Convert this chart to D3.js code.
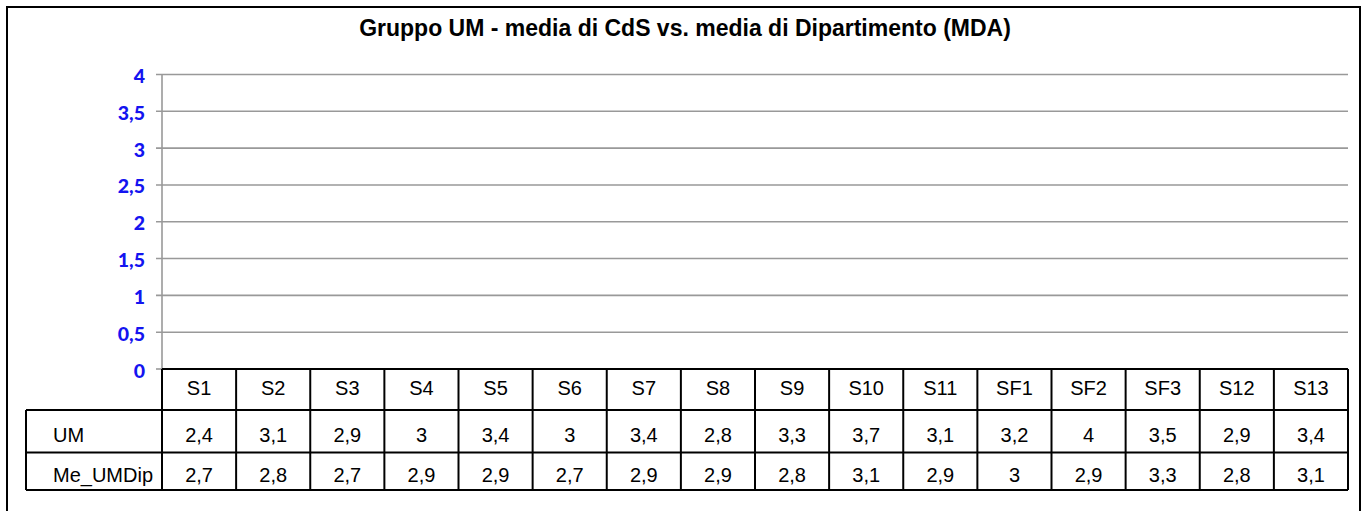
<!DOCTYPE html>
<html>
<head>
<meta charset="utf-8">
<script src="https://cdn.jsdelivr.net/npm/d3@7"></script>
<style>
  html, body { margin: 0; padding: 0; background: #fff; }
  svg { display: block; }
</style>
</head>
<body>
<svg id="chart" width="1365" height="511"></svg>
<script>
const title = "Gruppo UM - media di CdS vs. media di Dipartimento (MDA)";
const categories = ["S1","S2","S3","S4","S5","S6","S7","S8","S9","S10","S11","SF1","SF2","SF3","S12","S13"];
const seriesNames = ["UM", "Me_UMDip"];
const umValues = [2.4,3.1,2.9,3,3.4,3,3.4,2.8,3.3,3.7,3.1,3.2,4,3.5,2.9,3.4];
const meUMDipValues = [2.7,2.8,2.7,2.9,2.9,2.7,2.9,2.9,2.8,3.1,2.9,3,2.9,3.3,2.8,3.1];
const yTicks = [0,0.5,1,1.5,2,2.5,3,3.5,4];

const svg = d3.select("#chart");
const fmt = v => String(v).replace(".", ",");

// outer frame (no bottom edge visible)
svg.append("path")
  .attr("d", "M7,520 L7,7 L1360,7 L1360,520")
  .attr("fill", "none").attr("stroke", "#000").attr("stroke-width", 2);

// title
svg.append("text")
  .attr("x", 685).attr("y", 36)
  .attr("text-anchor", "middle")
  .attr("font-family", "Liberation Sans, Arial, sans-serif")
  .attr("font-weight", "bold")
  .attr("font-size", 23)
  .text(title);

const x = d3.scaleBand().domain(categories).range([162, 1348]);
const y = d3.scaleLinear().domain([0, 4]).range([369, 74.5]);

// gridlines
svg.append("g").selectAll("line").data(yTicks.filter(d => d > 0)).join("line")
  .attr("x1", 156).attr("x2", 1348)
  .attr("y1", d => y(d)).attr("y2", d => y(d))
  .attr("stroke", "#999").attr("stroke-width", 1.6);

// y axis line and zero tick
svg.append("line").attr("x1", 162).attr("x2", 162).attr("y1", y(4)).attr("y2", y(0))
  .attr("stroke", "#999").attr("stroke-width", 1.6);
svg.append("line").attr("x1", 156).attr("x2", 162).attr("y1", y(0)).attr("y2", y(0))
  .attr("stroke", "#999").attr("stroke-width", 1.6);

// y tick labels
svg.append("g").selectAll("text").data(yTicks).join("text")
  .attr("x", 145).attr("y", d => y(d) + 8.5)
  .attr("text-anchor", "end")
  .attr("font-family", "Lato, Carlito, Calibri, sans-serif")
  .attr("font-weight", "900")
  .attr("font-size", 19.5)
  .attr("fill", "#1414f0")
  .text(d => fmt(d));

// data table
const rowTops = [369, 410, 452.5, 490];
const baselineOffsets = [26, 32, 29];
const labelLeft = 26;
const tbl = svg.append("g").attr("font-family", "Liberation Sans, Arial, sans-serif")
  .attr("font-size", 20).attr("fill", "#000");

// horizontal lines
tbl.append("line").attr("x1", 162).attr("x2", 1348).attr("y1", rowTops[0]).attr("y2", rowTops[0])
  .attr("stroke", "#000").attr("stroke-width", 2);
[1, 2, 3].forEach(i => {
  tbl.append("line").attr("x1", labelLeft).attr("x2", 1348).attr("y1", rowTops[i]).attr("y2", rowTops[i])
    .attr("stroke", "#000").attr("stroke-width", 2);
});
// vertical lines
const colEdges = categories.map(c => x(c)).concat([x.range()[1]]);
tbl.selectAll("line.v").data(colEdges).join("line").attr("class", "v")
  .attr("x1", d => d).attr("x2", d => d).attr("y1", rowTops[0]).attr("y2", rowTops[3])
  .attr("stroke", "#000").attr("stroke-width", 2);
tbl.append("line").attr("x1", labelLeft).attr("x2", labelLeft).attr("y1", rowTops[1]).attr("y2", rowTops[3])
  .attr("stroke", "#000").attr("stroke-width", 2);

// header labels
tbl.selectAll("text.cat").data(categories).join("text").attr("class", "cat")
  .attr("x", d => x(d) + x.bandwidth() / 2)
  .attr("y", rowTops[0] + baselineOffsets[0])
  .attr("text-anchor", "middle")
  .text(d => d);

const rows = [umValues, meUMDipValues];
rows.forEach((vals, r) => {
  const by = rowTops[r + 1] + baselineOffsets[r + 1];
  tbl.append("text").attr("x", 53).attr("y", by).text(seriesNames[r]);
  tbl.selectAll("text.v" + r).data(vals).join("text").attr("class", "v" + r)
    .attr("x", (d, i) => x(categories[i]) + x.bandwidth() / 2)
    .attr("y", by)
    .attr("text-anchor", "middle")
    .text(d => fmt(d));
});
</script>
</body>
</html>
